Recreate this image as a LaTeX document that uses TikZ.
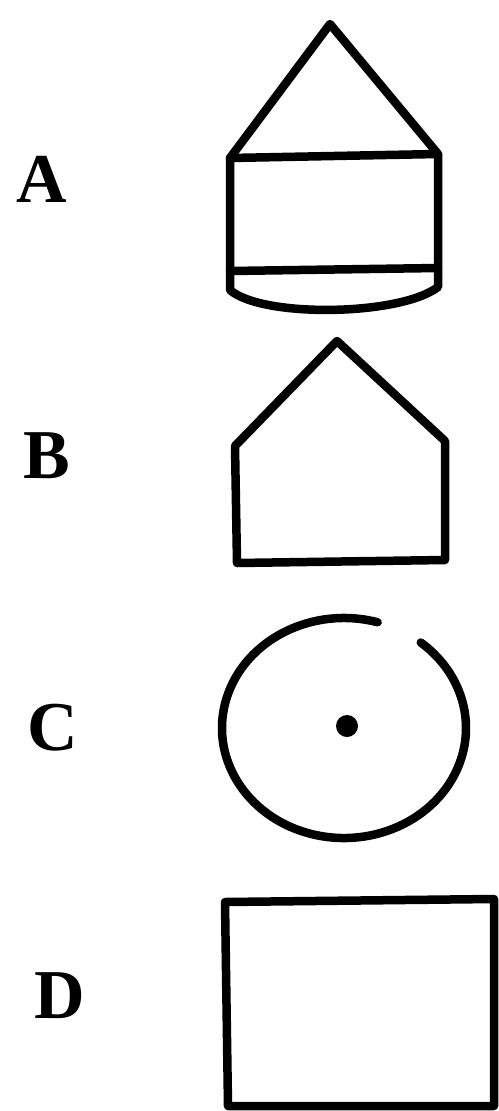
\documentclass[tikz,border=0pt]{standalone}
\usepackage{fontspec}
\setmainfont{Liberation Serif}
\begin{document}
\begin{tikzpicture}[x=1pt,y=-1pt,
  shp/.style={draw=black,line width=8.5pt,line join=round,line cap=round},
  lbl/.style={font=\fontsize{70}{70}\selectfont\bfseries,inner sep=0pt,anchor=center}]
\useasboundingbox[fill=white] (0,0) rectangle (498,1111);
% labels
\node[lbl] (la) at (42,179) {A};
\node[lbl] (lb) at (47,456) {B};
\node[lbl] (lc) at (53,728) {C};
\node[lbl] (ld) at (60,996) {D};
% shape A
\draw[shp] (230,158) -- (330,24) -- (438,154);
\draw[shp] (230,158) -- (438,154) -- (438,287)
  .. controls (400,316) and (262,318) .. (230,290) -- cycle;
\draw[shp] (230,271) -- (438,268);
% shape B
\draw[shp] (337,341) -- (445,441) -- (445,560) -- (237,563) -- (235,446) -- cycle;
% shape C
\draw[shp] (344,728) ++(-74:122 and 110) arc[start angle=-74,end angle=-411,x radius=122,y radius=110];
\fill (347,726) circle[radius=11];
% shape D
\draw[shp,line cap=butt] (225,902) -- (494,899) -- (494,1106) -- (228,1106) -- cycle;
\end{tikzpicture}
\end{document}
